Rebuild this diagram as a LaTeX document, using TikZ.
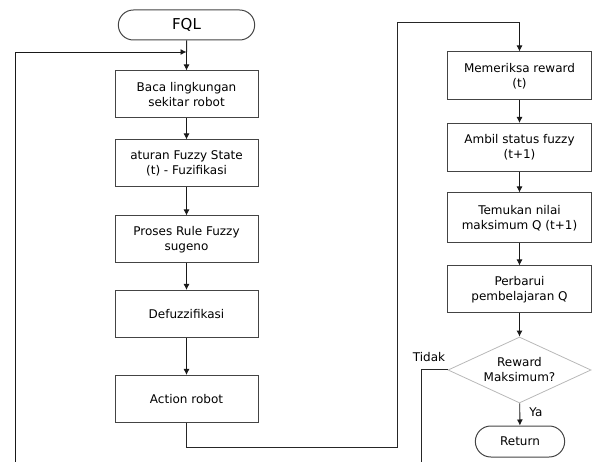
\documentclass[tikz,border=0pt]{standalone}
\usepackage{fontspec}
\setmainfont{DejaVu Sans}
\usetikzlibrary{arrows.meta,shapes.geometric,shapes.misc}
\definecolor{edge}{HTML}{444444}
\definecolor{dia}{HTML}{B8B8B8}
\begin{document}
\begin{tikzpicture}[x=1pt,y=-1pt,
  every node/.style={font=\fontsize{12}{15}\selectfont, text=black},
  box/.style={draw=edge, line width=1pt, rectangle, minimum width=143pt, minimum height=47pt, align=center, inner sep=1pt},
  term/.style={draw=edge, line width=1pt, rounded rectangle, align=center},
  dec/.style={draw=dia, line width=0.8pt, diamond, aspect=2.15, minimum width=143pt, minimum height=66pt, inner sep=0pt, align=center},
  flow/.style={draw=black!90, line width=0.9pt, -{Latex[length=6pt,width=6pt]}},
  line/.style={draw=black!85, line width=1pt}
]
\useasboundingbox (0,0) rectangle (592,462);
% left column
\node[term, minimum width=143pt, minimum height=30pt, font=\fontsize{15}{17}\selectfont] (fql) at (186.5,25) {FQL};
\node[box] (b1) at (186.5,94.5) {Baca lingkungan\\sekitar robot};
\node[box] (b2) at (186.5,163.5) {aturan Fuzzy State\\(t) - Fuzifikasi};
\node[box] (b3) at (186.5,239.5) {Proses Rule Fuzzy\\sugeno};
\node[box] (b4) at (186.5,314) {Defuzzifikasi};
\node[box] (b5) at (186.5,399) {Action robot};
% right column
\node[box, minimum width=144pt, minimum height=48pt] (r1) at (519.5,76) {Memeriksa reward\\(t)};
\node[box, minimum width=144pt, minimum height=48pt] (r2) at (519.5,147.5) {Ambil status fuzzy\\(t+1)};
\node[box, minimum width=144pt, minimum height=50pt] (r3) at (519.5,218) {Temukan nilai\\maksimum Q (t+1)};
\node[box, minimum width=144pt, minimum height=47pt] (r4) at (519.5,289.5) {Perbarui\\pembelajaran Q};
\node[dec] (d) at (519.5,370) {Reward\\Maksimum?};
\node[term, minimum width=96pt, minimum height=31pt] (ret) at (520,441.5) {Return};
% labels
\node (tidak) at (429,357) {Tidak};
\node (ya) at (536,412) {Ya};
% coordinates
\coordinate (j1) at (186.5,52);
\coordinate (lb) at (15,462);
\coordinate (lt) at (15,52);
\coordinate (a1) at (186.5,447);
\coordinate (a2) at (397,447);
\coordinate (a3) at (397,23);
\coordinate (a4) at (519.5,23);
\coordinate (t1) at (421,370);
\coordinate (t2) at (421,462);
% connectors
\draw[line] (fql) -- (j1);
\draw[flow] (j1) -- (b1);
\draw[flow] (lb) -- (lt) -- (j1);
\draw[flow] (b1) -- (b2);
\draw[flow] (b2) -- (b3);
\draw[flow] (b3) -- (b4);
\draw[flow] (b4) -- (b5);
\draw[line] (b5) -- (a1) -- (a2) -- (a3) -- (a4);
\draw[flow] (a4) -- (r1);
\draw[flow] (r1) -- (r2);
\draw[flow] (r2) -- (r3);
\draw[flow] (r3) -- (r4);
\draw[flow] (r4) -- (d);
\draw[flow] (d) -- (ret);
\draw[line] (d.west) -- (t1) -- (t2);
\end{tikzpicture}
\end{document}
